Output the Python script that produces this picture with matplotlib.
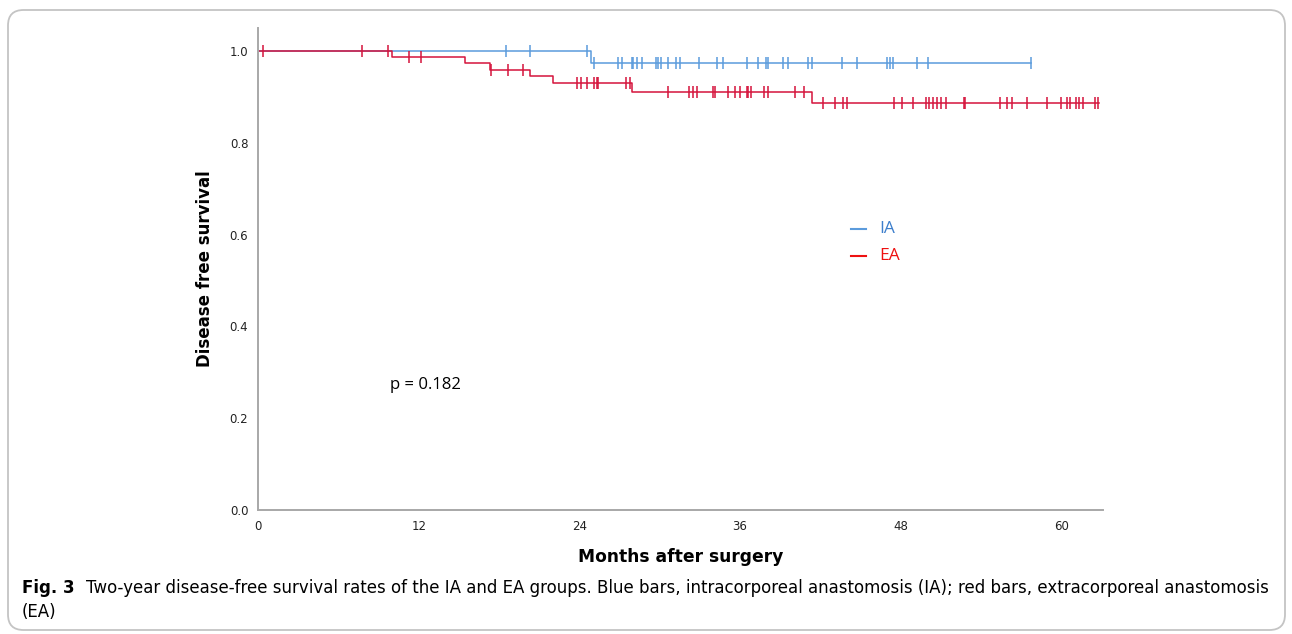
import numpy as np
import matplotlib
matplotlib.use("Agg")
import matplotlib.pyplot as plt
from matplotlib.patches import FancyBboxPatch

# ---- data ----
ia_event_times = [0.0, 24.9]
ia_survival = [1.0, 0.973]
ia_end = 57.7
ia_censored = [18.5, 20.3, 24.55, 25.1, 26.9, 27.2, 27.9, 28.0, 28.3, 28.7, 29.7, 29.9,
               30.1, 30.6, 31.2, 31.5, 32.9, 34.3, 34.7, 36.5, 37.3, 37.9, 38.1, 39.2,
               39.6, 41.1, 41.4, 43.6, 44.7, 47.0, 47.2, 47.4, 49.2, 50.0, 57.7]

ea_event_times = [0.0, 10.0, 15.45, 17.3, 20.3, 22.0, 27.9, 41.4]
ea_survival = [1.0, 0.986, 0.973, 0.959, 0.945, 0.931, 0.911, 0.886]
ea_end = 62.8
ea_censored = [0.37, 7.8, 9.7, 11.3, 12.2, 17.4, 18.7, 19.8, 23.8, 24.1, 24.6, 25.1, 25.3,
               25.4, 27.5, 27.8, 30.6, 32.2, 32.5, 32.8, 34.0, 34.1, 35.1, 35.6, 36.0,
               36.5, 36.6, 36.8, 37.8, 38.1, 40.1, 40.8, 42.2, 43.1, 43.7, 44.0, 47.5,
               48.1, 48.9, 49.9, 50.1, 50.4, 50.7, 51.0, 51.4, 52.7, 52.8, 55.4, 55.9,
               56.3, 57.4, 58.9, 60.0, 60.4, 60.6, 61.1, 61.3, 61.6, 62.5, 62.7]

x_ticks = [0, 12, 24, 36, 48, 60]
y_ticks = [0.0, 0.2, 0.4, 0.6, 0.8, 1.0]

IA_COLOR = "#5b9bdc"
EA_COLOR = "#d5143c"

W, H = 1292, 634
fig = plt.figure(figsize=(W / 100, H / 100), dpi=100)

# rounded frame
frame = FancyBboxPatch((8 / W, 4 / H), (1277) / W, (620) / H,
                       boxstyle="round,pad=0,rounding_size=0.012",
                       transform=fig.transFigure, facecolor="none",
                       edgecolor="#c4c4c4", linewidth=1.3, mutation_aspect=W / H)
fig.patches.append(frame)

ax = fig.add_axes([258 / W, 1 - 510 / H, (1103 - 258) / W, (510 - 28) / H])


def step_curve(times, surv, end):
    t = list(times) + [end]
    s = list(surv) + [surv[-1]]
    return t, s


def level_at(times, surv, x):
    idx = np.searchsorted(np.asarray(times), x, side="right") - 1
    return np.asarray(surv)[idx]


for times, surv, end, cens, col in [
    (ia_event_times, ia_survival, ia_end, ia_censored, IA_COLOR),
    (ea_event_times, ea_survival, ea_end, ea_censored, EA_COLOR),
]:
    t, s = step_curve(times, surv, end)
    ax.step(t, s, where="post", color=col, lw=1.1)
    cy = level_at(times, surv, np.asarray(cens))
    ax.plot(cens, cy, linestyle="none", marker="|", markersize=8,
            markeredgewidth=1.1, color=col)

ax.set_xlim(0, 63.1)
ax.set_ylim(0, 1.05)
ax.set_xticks(x_ticks)
ax.set_xticklabels([str(v) for v in x_ticks])
ax.set_yticks(y_ticks)
ax.set_yticklabels([f"{v:.1f}" for v in y_ticks])
ax.tick_params(length=0, labelsize=8.5, colors="#222222", pad=7)
for sp in ["top", "right"]:
    ax.spines[sp].set_visible(False)
for sp in ["left", "bottom"]:
    ax.spines[sp].set_color("#a8a8a8")
    ax.spines[sp].set_linewidth(1.4)

ax.set_xlabel("Months after surgery", fontsize=12.3, fontweight="bold", labelpad=11)
ax.set_ylabel("Disease free survival", fontsize=12, fontweight="bold", labelpad=11)

# legend
fig.lines.append(plt.Line2D([851 / W, 866 / W], [1 - 229 / H] * 2, color=IA_COLOR,
                            lw=1.5, transform=fig.transFigure))
fig.lines.append(plt.Line2D([851 / W, 866 / W], [1 - 256 / H] * 2, color="#ee1111",
                            lw=1.5, transform=fig.transFigure))
fig.text(879 / W, 1 - 229 / H, "IA", color="#3d7fcc", fontsize=12.5, va="center",
         family="Open Sans")
fig.text(879 / W, 1 - 256 / H, "EA", color="#ee1111", fontsize=12.5, va="center",
         family="Open Sans")

fig.text(390 / W, 1 - 385 / H, "p = 0.182", fontsize=12, va="center", family="Open Sans")

# caption
cap_font = "Liberation Sans Narrow"
t1 = fig.text(22 / W, 1 - 588 / H, "Fig. 3", fontsize=12, fontweight="bold",
              va="center", family=[cap_font, "DejaVu Sans"])
fig.canvas.draw()
ax.annotate("Two-year disease-free survival rates of the IA and EA groups. Blue bars, "
            "intracorporeal anastomosis (IA); red bars, extracorporeal anastomosis",
            xy=(1, 0.5), xycoords=t1, xytext=(8, 0), textcoords="offset points",
            fontsize=12, va="center", family=[cap_font, "DejaVu Sans"],
            annotation_clip=False)
fig.text(22 / W, 1 - 612 / H, "(EA)", fontsize=12, va="center",
         family=[cap_font, "DejaVu Sans"])

fig.savefig("out.png", dpi=100)
